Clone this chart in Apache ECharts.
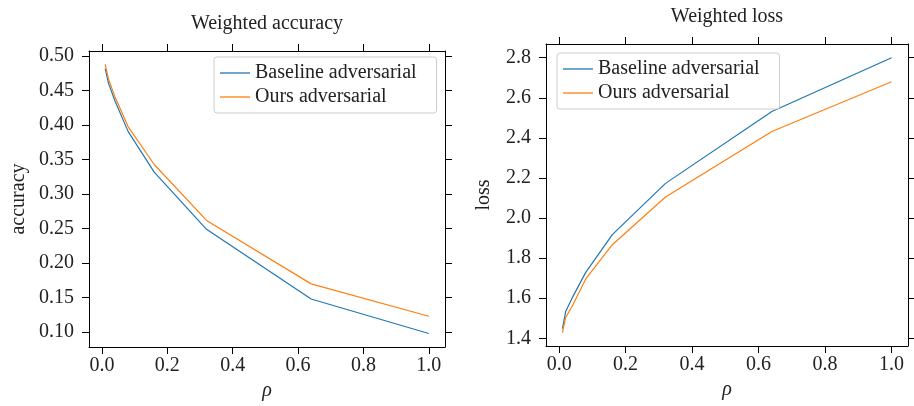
<!DOCTYPE html>
<html>
<head>
<meta charset="utf-8">
<script src="https://cdn.jsdelivr.net/npm/echarts@6/dist/echarts.min.js"></script>
<style>
html, body { margin: 0; padding: 0; background: #fff; }
#main { width: 914px; height: 406px; }
</style>
</head>
<body>
<div id="main"></div>
<script>
// rho values and the two metrics per method
var rho = [0.01, 0.02, 0.04, 0.08, 0.16, 0.32, 0.64, 1.0];
var accBaseline = [0.482, 0.461, 0.435, 0.391, 0.332, 0.249, 0.148, 0.098];
var accOurs = [0.488, 0.467, 0.441, 0.398, 0.343, 0.262, 0.170, 0.123];
var lossBaseline = [1.448, 1.535, 1.604, 1.729, 1.917, 2.173, 2.532, 2.800];
var lossOurs = [1.428, 1.505, 1.562, 1.696, 1.867, 2.105, 2.432, 2.680];
var xTicks = [0, 0.2, 0.4, 0.6, 0.8, 1.0];
var accTicks = [0.10, 0.15, 0.20, 0.25, 0.30, 0.35, 0.40, 0.45, 0.50];
var lossTicks = [1.4, 1.6, 1.8, 2.0, 2.2, 2.4, 2.6, 2.8];
var names = ['Baseline adversarial', 'Ours adversarial'];
var colors = ['#1f77b4', '#ff7f0e'];

var font = 'Liberation Serif';
var fs = 20;

function pairs(xs, ys) {
    return xs.map(function (x, i) { return [x, ys[i]]; });
}

// one of the 4 sides of a subplot box
function axis(kind, grid, pos, min, max, ticks, digits, name, nameGap) {
    var a = {
        type: 'value',
        gridIndex: grid,
        position: pos,
        min: min,
        max: max,
        splitLine: { show: false },
        axisLine: { show: true, onZero: false, lineStyle: { color: '#000', width: 1 } },
        axisTick: { show: true, inside: false, length: 7, customValues: ticks, lineStyle: { color: '#000', width: 1 } },
        axisLabel: { show: false }
    };
    if (digits !== null) {
        a.axisLabel = {
            show: true,
            customValues: ticks,
            color: '#222',
            fontFamily: font,
            fontSize: fs,
            margin: kind === 'x' ? 9 : 15,
            formatter: function (v) { return v.toFixed(digits); }
        };
    }
    if (name) {
        a.name = name;
        a.nameLocation = 'middle';
        a.nameGap = nameGap;
        a.nameTextStyle = { fontFamily: font, fontSize: fs, color: '#222', fontStyle: kind === 'x' ? 'italic' : 'normal' };
    }
    return a;
}

function legend(left, top) {
    return {
        orient: 'vertical',
        left: left,
        top: top,
        data: names,
        icon: 'rect',
        itemWidth: 30,
        itemHeight: 1.3,
        itemGap: 4,
        padding: [6, 20, 6, 6],
        backgroundColor: 'rgba(255,255,255,0.8)',
        borderColor: '#cccccc',
        borderWidth: 1,
        borderRadius: 3,
        selectedMode: false,
        textStyle: { fontFamily: font, fontSize: fs, color: '#222' }
    };
}

var myChart = echarts.init(document.getElementById('main'));

var xMin = -0.0395, xMax = 1.0495;

option = {
    animation: false,
    title: [
        { text: 'Weighted accuracy', left: 267, top: 14, textAlign: 'center', padding: 0,
          textStyle: { fontFamily: font, fontSize: fs, fontWeight: 'normal', color: '#222' } },
        { text: 'Weighted loss', left: 727, top: 7, textAlign: 'center', padding: 0,
          textStyle: { fontFamily: font, fontSize: fs, fontWeight: 'normal', color: '#222' } }
    ],
    legend: [legend(214, 57), legend(557, 53)],
    grid: [
        { left: 89, right: 469, top: 51, bottom: 59 },
        { left: 546, right: 6, top: 44, bottom: 60 }
    ],
    xAxis: [
        axis('x', 0, 'bottom', xMin, xMax, xTicks, 1, 'ρ', 34),
        axis('x', 0, 'top', xMin, xMax, xTicks, null),
        axis('x', 1, 'bottom', xMin, xMax, xTicks, 1, 'ρ', 34),
        axis('x', 1, 'top', xMin, xMax, xTicks, null)
    ],
    yAxis: [
        axis('y', 0, 'left', 0.0785, 0.5075, accTicks, 2, 'accuracy', 60),
        axis('y', 0, 'right', 0.0785, 0.5075, accTicks, null),
        axis('y', 1, 'left', 1.3615, 2.8685, lossTicks, 1, 'loss', 52),
        axis('y', 1, 'right', 1.3615, 2.8685, lossTicks, null)
    ],
    series: [
        { name: names[0], type: 'line', xAxisIndex: 0, yAxisIndex: 0, data: pairs(rho, accBaseline) },
        { name: names[1], type: 'line', xAxisIndex: 0, yAxisIndex: 0, data: pairs(rho, accOurs) },
        { name: names[0], type: 'line', xAxisIndex: 2, yAxisIndex: 2, data: pairs(rho, lossBaseline) },
        { name: names[1], type: 'line', xAxisIndex: 2, yAxisIndex: 2, data: pairs(rho, lossOurs) }
    ].map(function (s) {
        var c = colors[names.indexOf(s.name)];
        s.showSymbol = false;
        s.symbol = 'none';
        s.color = c;
        s.lineStyle = { color: c, width: 1.2 };
        return s;
    })
};

myChart.setOption(option);
</script>
</body>
</html>
